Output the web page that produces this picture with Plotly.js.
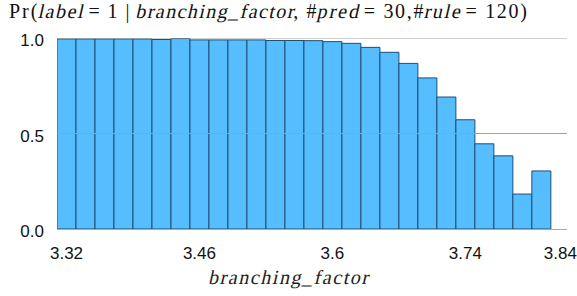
<!DOCTYPE html>
<html>
<head>
<meta charset="utf-8">
<script src="https://cdn.plot.ly/plotly-3.0.1.min.js"></script>
<style>html,body{margin:0;padding:0;background:#fff;}#chart{width:577px;height:296px;}</style>
</head>
<body>
<div id="chart"></div>
<script>
const binCenters = [3.32,3.34,3.36,3.38,3.40,3.42,3.44,3.46,3.48,3.50,3.52,3.54,3.56,3.58,3.60,3.62,3.64,3.66,3.68,3.70,3.72,3.74,3.76,3.78,3.80,3.82];
const probabilities = [0.995,0.995,0.995,0.995,0.995,0.992,0.997,0.99,0.99,0.99,0.99,0.987,0.987,0.986,0.981,0.972,0.951,0.925,0.867,0.791,0.691,0.572,0.446,0.383,0.183,0.304];
const xTickVals = [3.32,3.46,3.6,3.74,3.84];
const xTickText = ["3.32","3.46","3.6","3.74","3.84"];
const yTickVals = [0,0.5,1];
const yTickText = ["0.0","0.5","1.0"];
// title text runs: [text, italic]
const titleRuns = [["Pr(", false], ["label", true], [" = 1 | ", false], ["branching_factor", true], [", #", false], ["pred", true], [" = 30,#", false], ["rule", true], [" = 120)", false]];
const xTitleRuns = [["branching_factor", true]];

const serif = '"Liberation Serif", "Times New Roman", serif';

const trace = {
  type: 'bar',
  x: binCenters,
  y: probabilities,
  width: 0.02,
  marker: {color: 'rgb(86,190,255)', line: {color: 'rgb(30,78,115)', width: 1}},
  hoverinfo: 'none'
};

const gridShapes = yTickVals.filter(v => v > 0).map(v => ({
  type: 'line', xref: 'paper', yref: 'y', x0: 0, x1: 1, y0: v, y1: v,
  line: {color: '#a0a0a0', width: 1}, layer: 'above'
}));

const layout = {
  width: 577, height: 296,
  margin: {l: 57, r: 10, t: 38, b: 67},
  paper_bgcolor: '#fff', plot_bgcolor: '#fff',
  bargap: 0,
  showlegend: false,
  shapes: gridShapes,
  title: {
    text: titleRuns.map(r => r[0]).join(''),
    font: {family: serif, size: 20, color: '#111'},
    x: 8/577, xref: 'container', xanchor: 'left',
    y: 1 - 11/296, yref: 'container', yanchor: 'middle'
  },
  xaxis: {
    range: [3.31, 3.847],
    tickvals: xTickVals, ticktext: xTickText,
    showgrid: false, zeroline: false,
    showline: true, linecolor: '#aaa', linewidth: 1,
    ticks: '', layer: 'above traces',
    ticklabelstandoff: 9,
    tickfont: {family: 'Liberation Sans', size: 17, color: '#111'},
    title: {text: xTitleRuns.map(r => r[0]).join(''), font: {family: serif, size: 20, color: '#222'}, standoff: 4}
  },
  yaxis: {
    range: [0, 1],
    tickvals: yTickVals, ticktext: yTickText,
    showgrid: false,
    zeroline: false, showline: false, ticks: '',
    tickfont: {family: 'Liberation Sans', size: 17, color: '#111'},
    ticklabelstandoff: 12
  }
};

// Split a rendered text element into runs, slanting the italic ones (no serif italic face is installed),
// optionally stretching the whole line to a target left edge / width / baseline (math-style spacing).
function slantRuns(textEl, runs, opts) {
  if (!textEl) return;
  opts = opts || {};
  const svgns = 'http://www.w3.org/2000/svg';
  const parent = textEl.parentNode;
  const baseTransform = textEl.getAttribute('transform') || '';
  const style = textEl.getAttribute('style') || '';
  const cls = textEl.getAttribute('class') || '';
  const made = [];
  let idx = 0;
  runs.forEach(r => {
    const lead = r[0].length - r[0].replace(/^\s+/, '').length;
    const txt = r[0].trim();
    if (txt.length) {
      const p = textEl.getStartPositionOfChar(idx + lead);
      const w = textEl.getSubStringLength(idx + lead, txt.length);
      made.push({txt, italic: r[1], x: p.x, y: p.y, w});
    }
    idx += r[0].length;
  });
  const x0 = made[0].x;
  const last = made[made.length - 1];
  const natW = last.x + last.w - x0;
  const factor = opts.width ? opts.width / natW : 1;
  const left = opts.left !== undefined ? opts.left : x0;
  made.forEach(m => {
    const t = document.createElementNS(svgns, 'text');
    const nx = left + (m.x - x0) * factor;
    const ny = opts.baseline !== undefined ? opts.baseline : m.y;
    t.setAttribute('style', style);
    t.style.textAnchor = 'start';
    t.setAttribute('class', cls);
    t.setAttribute('x', nx);
    t.setAttribute('y', ny);
    if (factor !== 1) {
      t.setAttribute('textLength', m.w * factor);
      t.setAttribute('lengthAdjust', 'spacing');
    }
    let tr = baseTransform;
    if (m.italic) tr += ` translate(${nx},${ny}) skewX(-13) translate(${-nx},${-ny})`;
    if (tr.trim()) t.setAttribute('transform', tr.trim());
    t.textContent = m.txt;
    parent.appendChild(t);
  });
  parent.removeChild(textEl);
}

Plotly.newPlot('chart', [trace], layout, {displayModeBar: false, staticPlot: true}).then(gd => {
  slantRuns(gd.querySelector('.gtitle'), titleRuns, {left: 9, width: 518});
  slantRuns(gd.querySelector('.xtitle'), xTitleRuns, {left: 208, width: 160, baseline: 284});
  // y tick labels sit slightly below their grid lines in the reference
  gd.querySelectorAll('.ytick text').forEach(t => {
    const y = parseFloat(t.getAttribute('y') || '0');
    t.setAttribute('y', y + 2.5);
  });
});
</script>
</body>
</html>
